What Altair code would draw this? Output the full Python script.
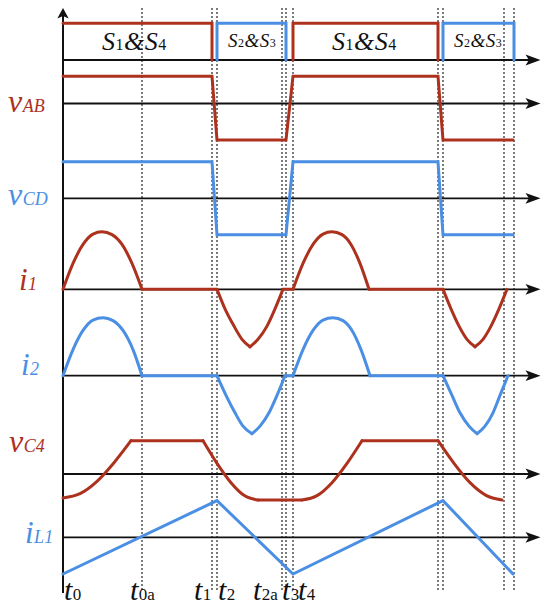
import altair as alt
import pandas as pd

RED = "#AD321E"
BLUE = "#4A8FE3"
INK = "#111111"
FONT = "Liberation Serif"

# ---------------- data (time units, t0 = 0) ----------------
event_names = ["t0a", "t1", "t2", "t2a", "t3", "t4", "t5", "t6", "t7", "t8"]
event_t = [79, 149, 154, 219, 223, 230, 375, 380, 441, 451]

# gate signals S1&S4 (red) and S2&S3 (blue), 1 = on
s14_t = [[0, 149, 149], [230, 230, 375, 375]]
s14_v = [[1, 1, 0], [0, 1, 1, 0]]
s23_t = [[154, 154, 223, 223], [380, 380, 451, 451]]
s23_v = [[0, 1, 1, 0], [0, 1, 1, 0]]

# bridge voltages
vab_t = [0, 149, 154, 223, 230, 375, 380, 450]
vab_v = [0.75, 0.75, -1, -1, 0.75, 0.75, -1, -1]
vcd_t = [0, 149, 154, 223, 230, 375, 380, 450]
vcd_v = [1, 1, -1, -1, 1, 1, -1, -1]

# resonant current i1 (curved pieces + zero pieces)
i1_curve_t = [[0, 10, 20, 30, 39, 49, 59, 69, 79],
              [154, 162, 171, 179, 187], [187, 195, 204, 212, 220],
              [230, 240, 250, 260, 269, 279, 288, 297, 306],
              [380, 388, 396, 404, 412], [412, 420, 428, 436, 444]]
i1_curve_v = [[0, 0.45, 0.78, 0.96, 1, 0.95, 0.78, 0.45, 0],
              [0, -0.34, -0.64, -0.87, -1], [-1, -0.87, -0.64, -0.34, 0],
              [0, 0.45, 0.78, 0.96, 1, 0.95, 0.78, 0.45, 0],
              [0, -0.34, -0.64, -0.87, -1], [-1, -0.87, -0.64, -0.34, 0]]
i1_zero_t = [[79, 154], [220, 230], [306, 380]]

# resonant current i2
i2_curve_t = [[0, 10, 20, 30, 40, 50, 60, 70, 79],
              [154, 163, 172, 180, 189], [189, 197, 206, 214, 222],
              [230, 240, 250, 260, 270, 280, 289, 298, 307],
              [380, 389, 397, 406, 414], [414, 422, 430, 437, 445]]
i2_curve_v = [[0, 0.45, 0.78, 0.96, 1, 0.95, 0.78, 0.45, 0],
              [0, -0.34, -0.64, -0.87, -1], [-1, -0.87, -0.64, -0.34, 0],
              [0, 0.45, 0.78, 0.96, 1, 0.95, 0.78, 0.45, 0],
              [0, -0.34, -0.64, -0.87, -1], [-1, -0.87, -0.64, -0.34, 0]]
i2_zero_t = [[79, 154], [222, 230], [307, 380]]

# capacitor voltage vC4
vc4_curve_t = [[0, 17, 34, 51, 68], [140, 154, 168, 181, 195],
               [239, 254, 269, 284, 299], [375, 391, 407, 423, 439]]
vc4_curve_v = [[-0.72, -0.59, -0.22, 0.34, 1], [1, 0.32, -0.26, -0.64, -0.78],
               [-0.78, -0.65, -0.26, 0.32, 1], [1, 0.32, -0.26, -0.64, -0.78]]
vc4_flat_t = [[68, 140], [195, 239], [299, 375]]
vc4_flat_v = [1, -0.78, 1]

# inductor current iL1
il1_t = [0, 154, 230, 380, 450]
il1_v = [-1, 1, -1, 1, -1]

# ---------------- layout (row baseline, gain) ----------------
rows = {
    "sw": (60, 36.7),
    "vab": (103.5, 36.5),
    "vcd": (198.3, 36.5),
    "i1": (289.3, 57.5),
    "i2": (375.7, 58),
    "vc4": (474, 33.3),
    "il1": (537.3, 36.7),
}
X_DOMAIN = [-55, 479]
Y_DOMAIN = [8, 606]
ARROW_END = 470

recs = []
seg_id = [0]


def add(row, ts, vs, color, interp):
    base, gain = rows[row]
    for k, (t, v) in enumerate(zip(ts, vs)):
        recs.append(dict(seg=seg_id[0], k=k, t=t, lvl=base - gain * v, color=color, interp=interp))
    seg_id[0] += 1


for ts, vs in zip(s14_t, s14_v):
    add("sw", ts, vs, RED, "linear")
for ts, vs in zip(s23_t, s23_v):
    add("sw", ts, vs, BLUE, "linear")
add("vab", vab_t, vab_v, RED, "linear")
add("vcd", vcd_t, vcd_v, BLUE, "linear")
for ts, vs in zip(i1_curve_t, i1_curve_v):
    add("i1", ts, vs, RED, "monotone")
for ts in i1_zero_t:
    add("i1", ts, [0] * len(ts), RED, "linear")
for ts, vs in zip(i2_curve_t, i2_curve_v):
    add("i2", ts, vs, BLUE, "monotone")
for ts in i2_zero_t:
    add("i2", ts, [0] * len(ts), BLUE, "linear")
for ts, vs in zip(vc4_curve_t, vc4_curve_v):
    add("vc4", ts, vs, RED, "monotone")
for ts, v in zip(vc4_flat_t, vc4_flat_v):
    add("vc4", ts, [v] * len(ts), RED, "linear")
add("il1", il1_t, il1_v, BLUE, "linear")

sig = pd.DataFrame(recs)

xs = alt.Scale(domain=X_DOMAIN, nice=False, zero=False)
ys = alt.Scale(domain=Y_DOMAIN, reverse=True, nice=False, zero=False)
X = alt.X("t:Q", scale=xs, axis=None)
Y = alt.Y("lvl:Q", scale=ys, axis=None)

# dashed event lines
ev = pd.DataFrame({"t": event_t, "lvl": 8, "lvl2": 590})
dashed = alt.Chart(ev).mark_rule(color=INK, strokeWidth=1.1, strokeDash=[2, 2]).encode(
    x=X, y=Y, y2="lvl2:Q")

# vertical axis
vax = pd.DataFrame({"t": [0], "lvl": [16], "lvl2": [593]})
vaxis = alt.Chart(vax).mark_rule(color=INK, strokeWidth=2).encode(x=X, y=Y, y2="lvl2:Q")
vhead = alt.Chart(pd.DataFrame({"t": [0], "lvl": [14]})).mark_point(
    shape="M0,-1L0.95,0.75L0,0.35L-0.95,0.75Z", filled=True, size=144, color=INK,
    opacity=1, strokeWidth=0).encode(x=X, y=Y)

# horizontal axes with arrowheads
hax = pd.DataFrame({"t": 0, "t2": ARROW_END, "lvl": [b for b, g in rows.values()]})
haxes = alt.Chart(hax).mark_rule(color=INK, strokeWidth=1.8).encode(x=X, x2="t2:Q", y=Y)
hheads = alt.Chart(hax.assign(t=ARROW_END)).mark_point(
    shape="M1,0L-1,-0.72L-0.55,0L-1,0.72Z", filled=True, size=225, color=INK,
    opacity=1, strokeWidth=0).encode(x=X, y=Y)

# signals
lin = alt.Chart(sig).transform_filter("datum.interp == 'linear'").mark_line(
    strokeWidth=3, strokeCap="round", strokeJoin="miter").encode(
    x=X, y=Y, detail="seg:N", order="k:Q", color=alt.Color("color:N", scale=None))
mono = alt.Chart(sig).transform_filter("datum.interp == 'monotone'").mark_line(
    strokeWidth=3, strokeCap="round", interpolate="monotone").encode(
    x=X, y=Y, detail="seg:N", order="k:Q", color=alt.Color("color:N", scale=None))

# ---------------- labels ----------------
W = {"S": .5, "&": .778, "v": .444, "i": .278, "t": .278, "A": .611, "B": .611,
     "C": .667, "D": .722, "L": .556, "a": .5}
X0 = 63  # reference x of t0
TB = 600  # baseline of the time labels

label_specs = [
    # left x, baseline, colour, pieces (text, size, italic)
    (8, 112, RED, [("v", 32, True), ("AB", 18, True)]),
    (8, 205, BLUE, [("v", 32, True), ("CD", 18, True)]),
    (19, 290, RED, [("i", 31, True), ("1", 18, True)]),
    (21, 375, BLUE, [("i", 31, True), ("2", 18, True)]),
    (9, 452, RED, [("v", 32, True), ("C4", 18, True)]),
    (25, 543, BLUE, [("i", 31, True), ("L1", 18, True)]),
    (64, TB, INK, [("t", 30, True), ("0", 17, False)]),
    (130, TB, INK, [("t", 30, True), ("0a", 17, False)]),
    (194, TB, INK, [("t", 30, True), ("1", 17, False)]),
    (218, TB, INK, [("t", 30, True), ("2", 17, False)]),
    (253, TB, INK, [("t", 30, True), ("2a", 17, False)]),
    (282, TB, INK, [("t", 30, True), ("3", 17, False)]),
    (298, TB, INK, [("t", 30, True), ("4", 17, False)]),
    (102, 50, INK, [("S", 26, True), ("1", 16, False), ("&", 26, True), ("S", 26, True), ("4", 16, False)]),
    (228, 47, INK, [("S", 19, True), ("2", 12, False), ("&", 19, True), ("S", 19, True), ("3", 12, False)]),
    (332, 50, INK, [("S", 26, True), ("1", 16, False), ("&", 26, True), ("S", 26, True), ("4", 16, False)]),
    (454, 47, INK, [("S", 19, True), ("2", 12, False), ("&", 19, True), ("S", 19, True), ("3", 12, False)]),
]

lab = []
for x, base, col, pieces in label_specs:
    cur = x
    for txt, size, ital in pieces:
        lab.append(dict(t=cur - X0, lvl=base, text=txt, size=size, color=col,
                        style="italic" if ital else "normal"))
        cur += sum(W.get(c, .5) for c in txt) * size + 0.5
labels = pd.DataFrame(lab)


def text_layer(style):
    return alt.Chart(labels).transform_filter(f"datum.style == '{style}'").mark_text(
        align="left", baseline="alphabetic", font=FONT, fontStyle=style).encode(
        x=X, y=Y, text="text:N", size=alt.Size("size:Q", scale=None),
        color=alt.Color("color:N", scale=None))


chart = alt.layer(
    dashed, vaxis, vhead, haxes, hheads, lin, mono, text_layer("italic"), text_layer("normal")
).properties(
    width=534, height=598, padding=0, autosize=alt.AutoSizeParams(type="none")
).configure_view(strokeWidth=0)

chart.save("out.html", embed_options={"renderer": "svg", "actions": False})
